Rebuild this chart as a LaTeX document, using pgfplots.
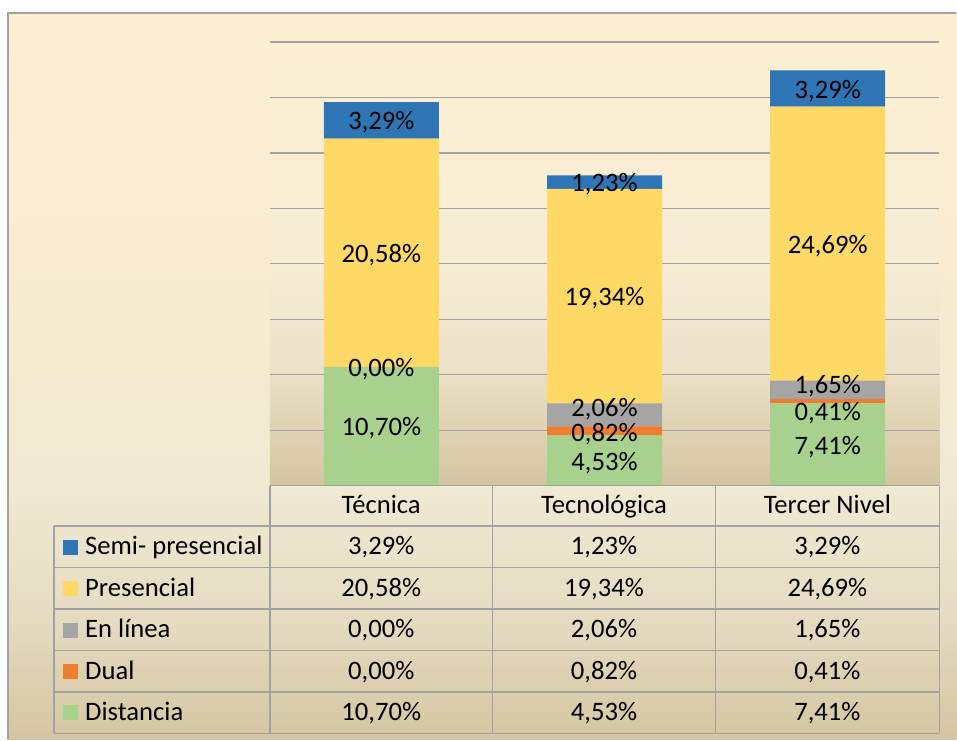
\documentclass[border=0pt]{standalone}
\usepackage{pgfplots}
\pgfplotsset{compat=1.18}
\usepackage{fontspec}
\setmainfont{Carlito}
\definecolor{cSemi}{HTML}{2E75B6}
\definecolor{cPres}{HTML}{FFD966}
\definecolor{cLin}{HTML}{A5A5A5}
\definecolor{cDual}{HTML}{ED7D31}
\definecolor{cDist}{HTML}{A9D18E}
\definecolor{gridc}{HTML}{A3A3A3}
\definecolor{tabc}{HTML}{A2A2A2}
\definecolor{ca1}{HTML}{D4C5A1}
\definecolor{ca2}{HTML}{D8CBA8}
\definecolor{ca3}{HTML}{DDD1B2}
\definecolor{ca4}{HTML}{E4DAC0}
\definecolor{ca5}{HTML}{F0E9D3}
\definecolor{ca6}{HTML}{F9ECD0}
\definecolor{ca7}{HTML}{FDEFD2}
\definecolor{pa1}{HTML}{D4C5A1}
\definecolor{pa2}{HTML}{D8C9A6}
\definecolor{pa3}{HTML}{EDE3CA}
\definecolor{pa4}{HTML}{F6EDD4}
\definecolor{pa5}{HTML}{FCEFD3}
\pgfdeclareverticalshading{chartbg}{100bp}{color(0bp)=(ca1); color(25bp)=(ca1); color(26.7bp)=(ca2); color(29.7bp)=(ca3); color(32.6bp)=(ca4); color(42.2bp)=(ca5); color(58bp)=(ca6); color(75bp)=(ca7); color(100bp)=(ca7)}
\pgfdeclareverticalshading{plotbg}{100bp}{color(0bp)=(pa1); color(25bp)=(pa1); color(27bp)=(pa2); color(39bp)=(pa3); color(50bp)=(pa4); color(75bp)=(pa5); color(100bp)=(pa5)}
\newcommand\lbl{\fontsize{20}{24}\selectfont}
\begin{document}
\begin{tikzpicture}
\begin{scope}[x=0.75pt,y=-0.75pt]
  \fill[white] (0,0) rectangle (957,740);
  \shade[shading=chartbg] (8,13) rectangle (957,740);
  \draw[tabc, line width=1.1pt] (8,740) -- (8,13) -- (957,13);
\end{scope}
\pgfplotsset{
  base/.style={
    at={(202.5pt,-364.5pt)}, anchor=south west,
    scale only axis, width=502.5pt, height=333pt,
    xmin=-0.5, xmax=2.5, ymin=0, ymax=40,
    xtick=\empty, ytick={0,5,...,40}, yticklabels={},
    axis line style={draw=none}, tick style={draw=none},
  }
}
\begin{axis}[base,
  axis background/.style={shade, shading=plotbg},
  ymajorgrids, major grid style={gridc, line width=1pt},
  ybar stacked, bar width=0.515]
  \addplot[fill=cDist, draw=none] coordinates {(0,10.70) (1,4.53) (2,7.41)};
  \addplot[fill=cDual, draw=none] coordinates {(0,0.00) (1,0.82) (2,0.41)};
  \addplot[fill=cLin, draw=none] coordinates {(0,0.00) (1,2.06) (2,1.65)};
  \addplot[fill=cPres, draw=none] coordinates {(0,20.58) (1,19.34) (2,24.69)};
  \addplot[fill=cSemi, draw=none] coordinates {(0,3.29) (1,1.23) (2,3.29)};
\end{axis}
\begin{axis}[base]
  \addplot[draw=none, mark=none, nodes near coords, point meta=explicit symbolic,
    nodes near coords style={anchor=center, inner sep=0pt, yshift=-1.6pt, font=\lbl, text=black}]
    coordinates {
      (0,5.35)[10,70\%] (0,10.70)[0,00\%] (0,20.99)[20,58\%] (0,32.925)[3,29\%]
      (1,2.19)[4,53\%] (1,4.86)[0,82\%] (1,7.07)[2,06\%] (1,17.08)[19,34\%] (1,27.365)[1,23\%]
      (2,3.705)[7,41\%] (2,6.76)[0,41\%] (2,9.19)[1,65\%] (2,21.815)[24,69\%] (2,35.805)[3,29\%]
    };
\end{axis}
\begin{scope}[x=0.75pt,y=-0.75pt]
  \draw[tabc, line width=1.1pt]
    (270,486) -- (940,486)
    (54,526.5) -- (940,526.5)
    (54,568) -- (940,568)
    (54,609.5) -- (940,609.5)
    (54,651) -- (940,651)
    (54,692.5) -- (940,692.5)
    (54,734) -- (940,734)
    (54,526.5) -- (54,734)
    (270,486) -- (270,734)
    (493,486) -- (493,734)
    (716,486) -- (716,734)
    (940,486) -- (940,734);
  \tikzset{tt/.style={anchor=base, inner sep=0pt, font=\lbl}}
  \node[tt] at (381.5,513.5) {Técnica};
  \node[tt] at (604.5,513.5) {Tecnológica};
  \node[tt] at (828,513.5) {Tercer Nivel};
  % legend column
  \fill[cSemi] (63,540) rectangle (78,555);
  \fill[cPres] (63,581.5) rectangle (78,596.5);
  \fill[cLin]  (63,623) rectangle (78,638);
  \fill[cDual] (63,664.5) rectangle (78,679.5);
  \fill[cDist] (63,706) rectangle (78,721);
  \tikzset{tl/.style={anchor=base west, inner sep=0pt, font=\lbl}}
  \node[tl] at (85,555.25) {Semi- presencial};
  \node[tl] at (85,596.75) {Presencial};
  \node[tl] at (85,638.25) {En línea};
  \node[tl] at (85,679.75) {Dual};
  \node[tl] at (85,721.25) {Distancia};
  % values
  \node[tt] at (381.5,555.25) {3,29\%};
  \node[tt] at (604.5,555.25) {1,23\%};
  \node[tt] at (828,555.25) {3,29\%};
  \node[tt] at (381.5,596.75) {20,58\%};
  \node[tt] at (604.5,596.75) {19,34\%};
  \node[tt] at (828,596.75) {24,69\%};
  \node[tt] at (381.5,638.25) {0,00\%};
  \node[tt] at (604.5,638.25) {2,06\%};
  \node[tt] at (828,638.25) {1,65\%};
  \node[tt] at (381.5,679.75) {0,00\%};
  \node[tt] at (604.5,679.75) {0,82\%};
  \node[tt] at (828,679.75) {0,41\%};
  \node[tt] at (381.5,721.25) {10,70\%};
  \node[tt] at (604.5,721.25) {4,53\%};
  \node[tt] at (828,721.25) {7,41\%};
\end{scope}
\end{tikzpicture}
\end{document}
